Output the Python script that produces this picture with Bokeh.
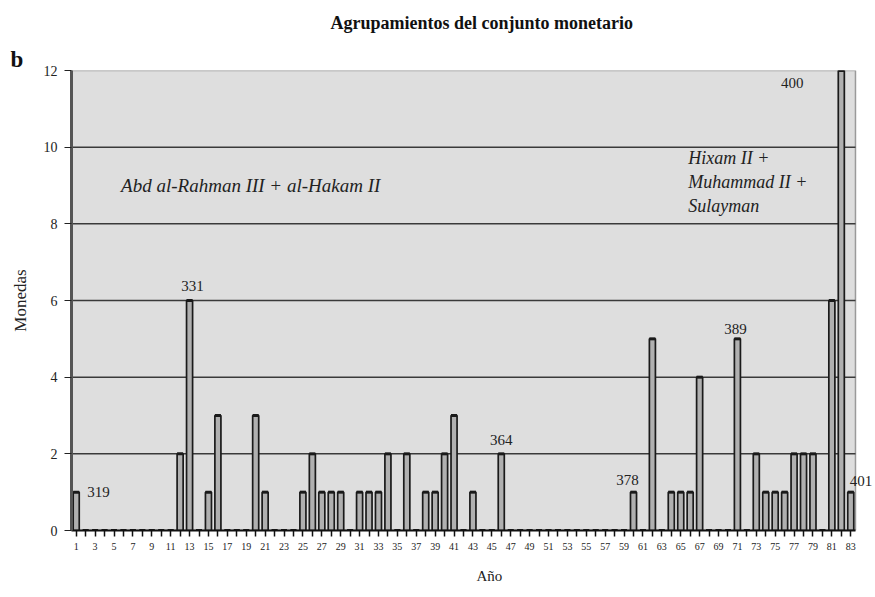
from bokeh.plotting import figure
from bokeh.models import ColumnDataSource, FixedTicker, Label, Range1d, Title
from bokeh.embed import file_html
from bokeh.resources import INLINE

# ---- data ----
years = list(range(1, 84))
counts = [1, 0, 0, 0, 0, 0, 0, 0, 0, 0,
          0, 2, 6, 0, 1, 3, 0, 0, 0, 3,
          1, 0, 0, 0, 1, 2, 1, 1, 1, 0,
          1, 1, 1, 2, 0, 2, 0, 1, 1, 2,
          3, 0, 1, 0, 0, 2, 0, 0, 0, 0,
          0, 0, 0, 0, 0, 0, 0, 0, 0, 1,
          0, 5, 0, 1, 1, 1, 4, 0, 0, 0,
          5, 0, 2, 1, 1, 1, 2, 2, 2, 0,
          6, 12, 1]
hijri_labels = ["319", "331", "364", "378", "389", "400", "401"]
hijri_years = [1, 13, 46, 60, 71, 82, 83]
y_ticks = [0, 2, 4, 6, 8, 10, 12]
title_text = "Agrupamientos del conjunto monetario"
panel_letter = "b"
y_title = "Monedas"
x_title = "Año"
group1 = ["Abd al-Rahman III + al-Hakam II"]
group2 = ["Hixam II +", "Muhammad II +", "Sulayman"]

SERIF = "Liberation Serif"
X0, X1 = years[0] - 0.5, years[-1] + 0.5
Y0, Y1 = y_ticks[0], y_ticks[-1]

src = ColumnDataSource(dict(x=years, top=counts))

p = figure(width=875, height=597, output_backend="svg", toolbar_location=None,
           x_range=Range1d(X0, X1 + 2.12), y_range=Range1d(Y0, Y1),
           min_border_left=71, min_border_right=0, min_border_top=70,
           min_border_bottom=67)
p.background_fill_color = "white"
p.border_fill_color = "white"
p.outline_line_color = None

# plot wall
p.quad(left=X0, right=X1, bottom=Y0, top=Y1, fill_color="#dedede",
       line_color="#9a9a9a", line_width=1.5)
gy = y_ticks[1:-1]
p.segment(x0=[X0] * len(gy), x1=[X1] * len(gy), y0=gy, y1=gy,
          line_color="#3a3a3a", line_width=1.5)

# bars
p.vbar(x="x", top="top", bottom=0, width=0.64, source=src,
       fill_color="#b0b0b0", line_color="#1a1a1a", line_width=1.7)
p.rect(x="x", y="top", width=0.64, height=3, height_units="screen", source=src,
       fill_color="#1a1a1a", line_color=None)

# axes
p.xgrid.visible = False
p.ygrid.visible = False

xa = p.xaxis[0]
xa.ticker = FixedTicker(ticks=years)
xa.bounds = (X0, X1)
xa.major_label_overrides = {y: (str(y) if y % 2 == 1 else "") for y in years}
xa.major_label_text_font = SERIF
xa.major_label_text_font_size = "10px"
xa.major_label_text_color = "#222"
xa.major_tick_in = 0
xa.major_tick_out = 6
xa.major_tick_line_color = "#111"
xa.major_tick_line_width = 1.5
xa.minor_tick_line_color = None
xa.axis_line_color = "#111"
xa.axis_line_width = 2
xa.major_label_standoff = 6

ya = p.yaxis[0]
ya.ticker = FixedTicker(ticks=y_ticks)
ya.major_label_text_font = SERIF
ya.major_label_text_font_size = "14px"
ya.major_label_text_color = "#222"
ya.major_tick_in = 0
ya.major_tick_out = 7
ya.major_tick_line_color = "#222"
ya.minor_tick_line_color = None
ya.axis_line_color = "#555"
ya.axis_line_width = 3
ya.major_label_standoff = 7
ya.axis_label = y_title
ya.axis_label_text_font = SERIF
ya.axis_label_text_font_style = "normal"
ya.axis_label_text_font_size = "17px"
ya.axis_label_text_color = "#222"
ya.axis_label_standoff = 11

# hijri year labels near bars (style offsets per label)
offs = {"319": (11, 0, "left", "middle"),
        "331": (3, 10, "center", "bottom"),
        "364": (0, 9, "center", "bottom"),
        "378": (-6, 7, "center", "bottom"),
        "389": (-2, 5, "center", "bottom"),
        "400": (-49, -12, "center", "middle"),
        "401": (-1, 6, "left", "bottom")}
for t, xv in zip(hijri_labels, hijri_years):
    dx, dy, al, bl = offs[t]
    p.add_layout(Label(x=xv, y=counts[xv - 1], text=t, x_offset=dx, y_offset=dy,
                       text_align=al, text_baseline=bl, text_font=SERIF,
                       text_font_size="15px", text_color="#222"))

# group annotations
p.add_layout(Label(x=5.75, y=9.0, text=group1[0], text_font=SERIF,
                   text_font_style="italic", text_font_size="19px",
                   text_baseline="middle", text_color="#222"))
for i, t in enumerate(group2):
    p.add_layout(Label(x=65.8, y=9.73 - 0.63 * i, text=t, text_font=SERIF,
                       text_font_style="italic", text_font_size="18px",
                       text_baseline="middle", text_color="#222"))

# titles
p.title = Title(text=title_text, align="left", offset=259, text_font=SERIF,
                text_font_style="bold", text_font_size="18px", text_color="#111",
                vertical_align="top", standoff=22)
p.add_layout(Title(text=panel_letter, align="left", offset=-61, text_font=SERIF,
                   text_font_style="bold", text_font_size="23px",
                   text_color="#111", standoff=-2), "above")
p.add_layout(Title(text=x_title, align="left", offset=405, text_font=SERIF,
                   text_font_style="normal", text_font_size="15px",
                   text_color="#222", standoff=26), "below")

open("out.html", "w").write(file_html(p, INLINE))
